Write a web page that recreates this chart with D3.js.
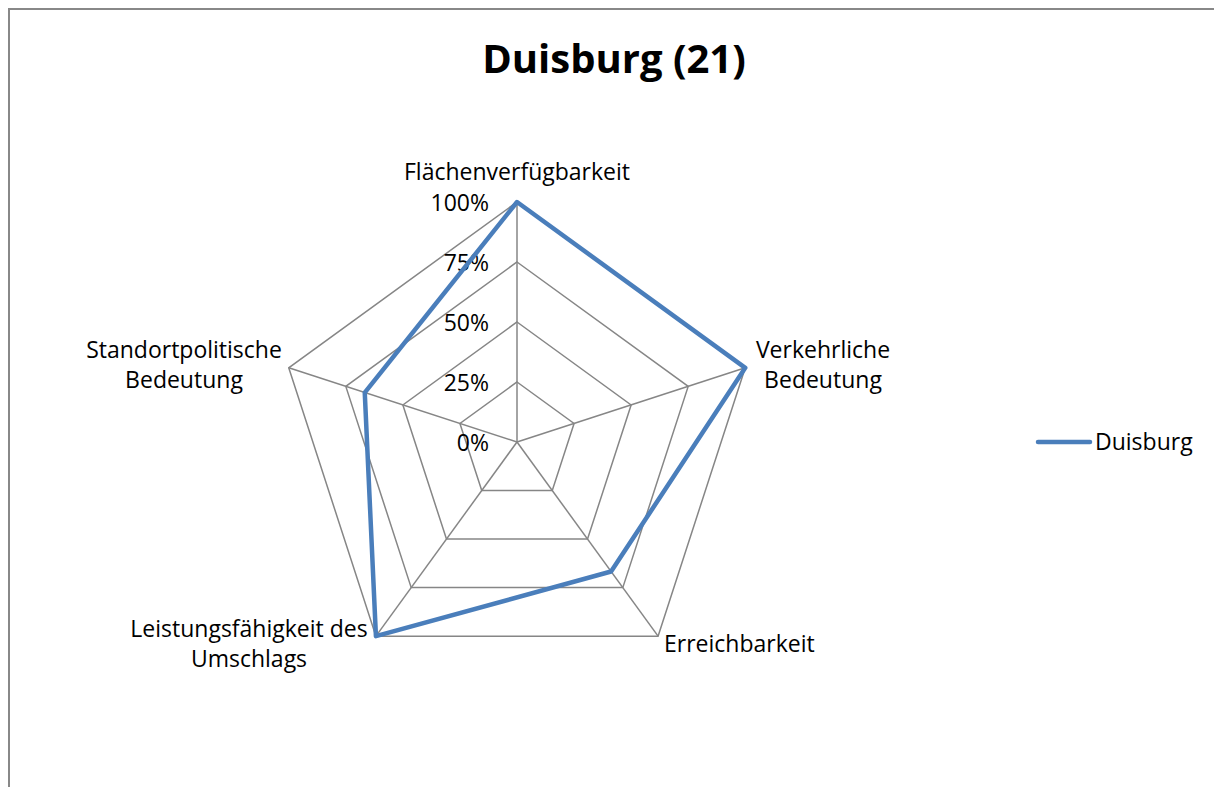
<!DOCTYPE html>
<html><head><meta charset="utf-8">
<script src="https://cdn.jsdelivr.net/npm/d3@7"></script>
<style>body{margin:0;background:#fff;} svg{display:block;font-family:"Open Sans",Lato,sans-serif;}</style>
</head><body>
<svg id="c" width="1214" height="787"></svg>
<script>
const categories = ["Flächenverfügbarkeit", "Verkehrliche Bedeutung", "Erreichbarkeit", "Leistungsfähigkeit des Umschlags", "Standortpolitische Bedeutung"];
const labelLines = [["Flächenverfügbarkeit"], ["Verkehrliche", "Bedeutung"], ["Erreichbarkeit"], ["Leistungsfähigkeit des", "Umschlags"], ["Standortpolitische", "Bedeutung"]];
const seriesName = "Duisburg";
const values = [1.0, 1.0, 0.667, 1.0, 0.667];
const tickValues = [0, 0.25, 0.5, 0.75, 1.0];
const tickLabels = ["0%", "25%", "50%", "75%", "100%"];
const title = "Duisburg (21)";

const svg = d3.select("#c");
const cx = 517, cy = 442, R = 240;
const FS = 23;
const r = d3.scaleLinear().domain([0, 1]).range([0, R]);
const ang = d3.scaleLinear().domain([0, categories.length]).range([0, 2 * Math.PI]);
const pt = (i, v) => [cx + r(v) * Math.sin(ang(i)), cy - r(v) * Math.cos(ang(i))];

// border
svg.append("path").attr("d", "M9,787 L9,9 L1214,9").attr("fill", "none").attr("stroke", "#888").attr("stroke-width", 2);

// title
svg.append("text").attr("x", 614).attr("y", 73).attr("text-anchor", "middle")
  .attr("font-size", 40).attr("font-weight", "bold").attr("fill", "#000").text(title);

const g = svg.append("g");
// rings
tickValues.slice(1).forEach(t => {
  g.append("path").attr("d", d3.line()(categories.map((c, i) => pt(i, t))) + "Z")
    .attr("fill", "none").attr("stroke", "#868686").attr("stroke-width", 1.5);
});
// spokes
categories.forEach((c, i) => {
  g.append("line").attr("x1", cx).attr("y1", cy).attr("x2", pt(i, 1)[0]).attr("y2", pt(i, 1)[1])
    .attr("stroke", "#868686").attr("stroke-width", 1.5);
});
// tick labels
tickValues.forEach((t, k) => {
  g.append("text").attr("x", cx - 28).attr("y", cy - r(t) + 9).attr("text-anchor", "end")
    .attr("font-size", FS).attr("fill", "#000").text(tickLabels[k]);
});
// data line
g.append("path").attr("d", d3.line()(values.map((v, i) => pt(i, v))) + "Z")
  .attr("fill", "none").attr("stroke", "#4a7ebb").attr("stroke-width", 4.5).attr("stroke-linejoin", "round");

// category labels
const labelPos = [
  {x: 517, y: 180, a: "middle"},
  {x: 823, y: 358, a: "middle"},
  {x: 664, y: 652, a: "start"},
  {x: 249, y: 637, a: "middle"},
  {x: 184, y: 358, a: "middle"}
];
labelLines.forEach((lines, i) => {
  const p = labelPos[i];
  const t = g.append("text").attr("text-anchor", p.a).attr("font-size", FS).attr("fill", "#000");
  lines.forEach((l, j) => t.append("tspan").attr("x", p.x).attr("y", p.y + j * 30).text(l));
});

// legend
svg.append("line").attr("x1", 1038).attr("y1", 442).attr("x2", 1090).attr("y2", 442)
  .attr("stroke", "#4a7ebb").attr("stroke-width", 4.5).attr("stroke-linecap", "round");
svg.append("text").attr("x", 1095).attr("y", 450).attr("font-size", FS).attr("fill", "#000").text(seriesName);
</script>
</body></html>
